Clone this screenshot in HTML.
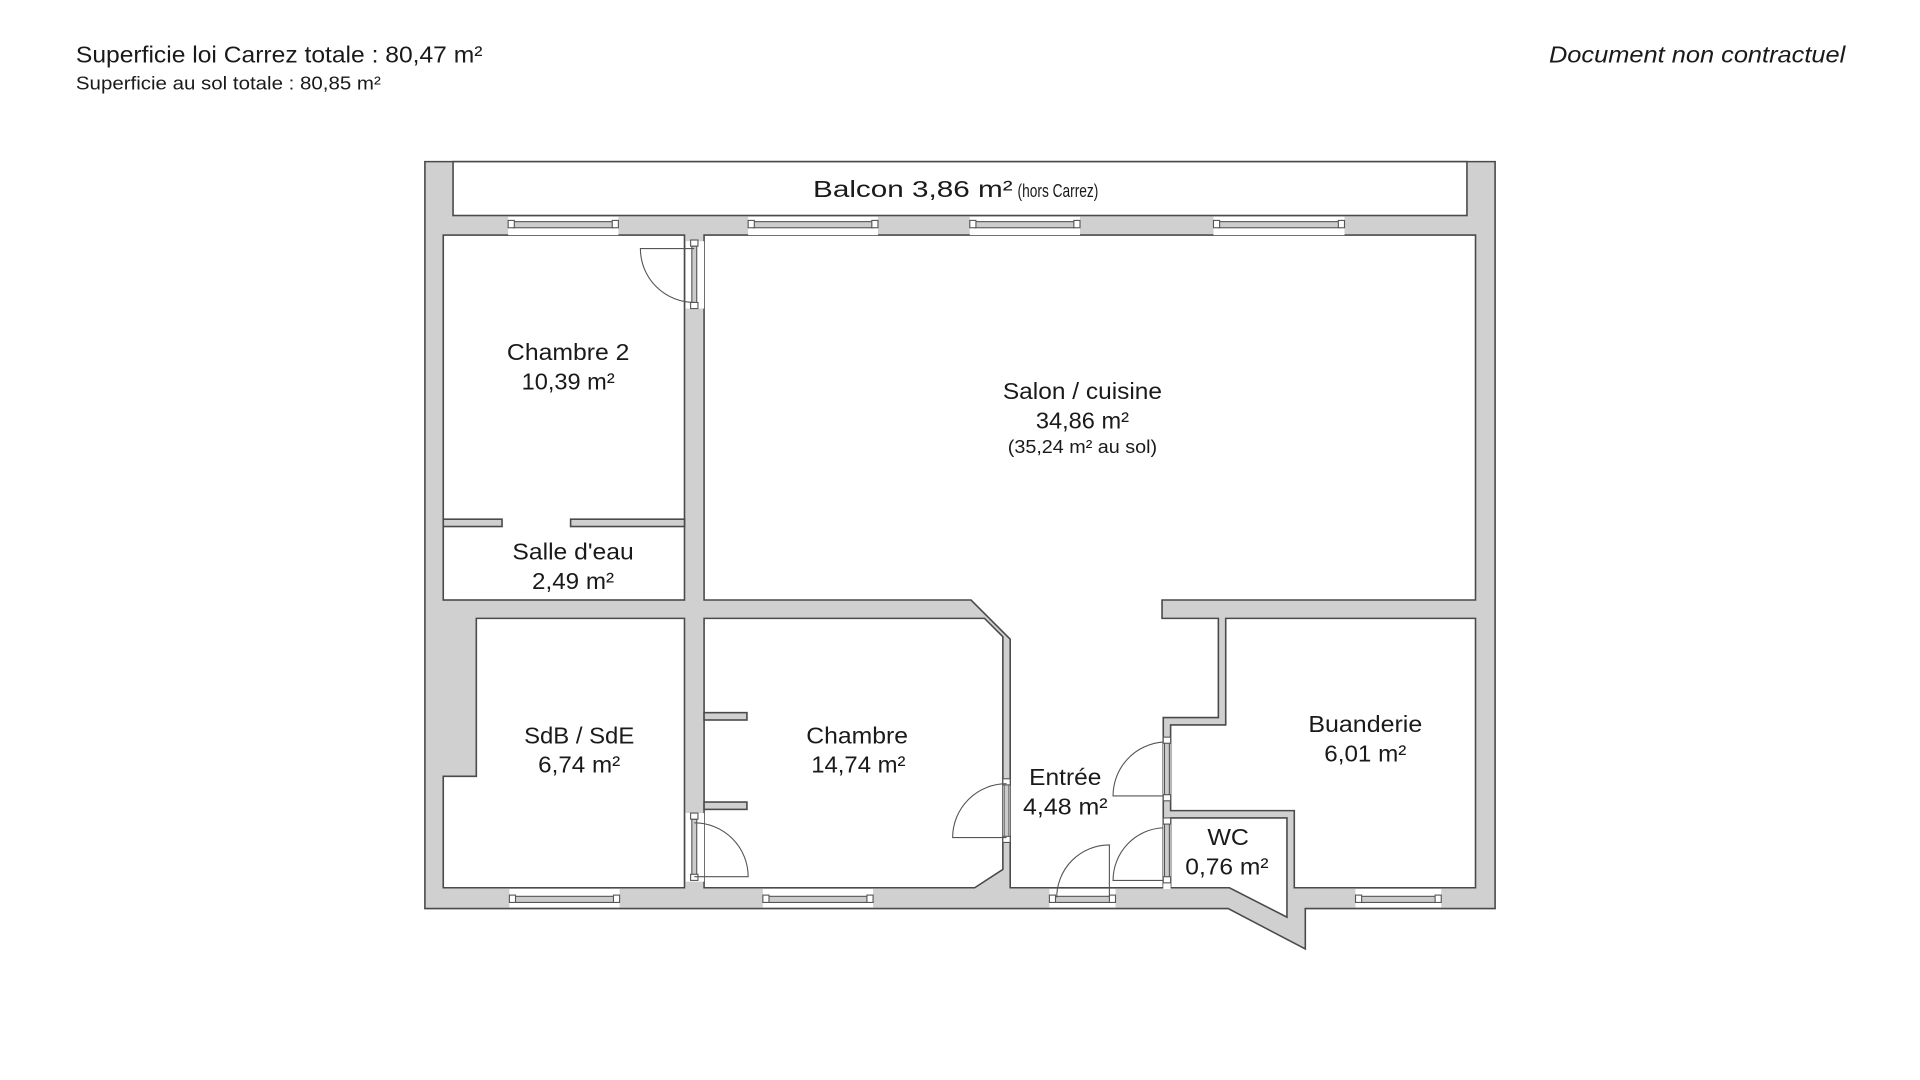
<!DOCTYPE html>
<html><head><meta charset="utf-8"><style>
html,body{margin:0;padding:0;background:#fff;}
svg{display:block}
text{font-family:"Liberation Sans",sans-serif;fill:#1a1a1a}
</style></head><body>
<svg width="1920" height="1080" viewBox="0 0 1568 882" xmlns="http://www.w3.org/2000/svg">
<rect width="1568" height="882" fill="#fff"/>
<g stroke="#4a4a4a" stroke-width="1.3" stroke-linejoin="miter">
<polygon points="347,132 1221,132 1221,742 1066,742 1066,775 1003,742 347,742" fill="#d0d0d0"/>
<rect x="370" y="132" width="828" height="44" fill="#fff"/>
<rect x="362" y="192" width="197" height="298" fill="#fff"/>
<rect x="362" y="424" width="48" height="6" fill="#d0d0d0"/>
<rect x="466" y="424" width="93" height="6" fill="#d0d0d0"/>
<polygon points="575,192 1205,192 1205,490 949,490 949,505 995,505 995,586 950,586 950,725 825,725 825,522 793,490 575,490" fill="#fff"/>
<polygon points="575,505 804,505 819,520 819,710 796,725 575,725" fill="#fff"/>
<rect x="575" y="582" width="35" height="6" fill="#d0d0d0"/>
<rect x="575" y="655" width="35" height="6" fill="#d0d0d0"/>
<polygon points="389,505 559,505 559,725 362,725 362,634 389,634" fill="#fff"/>
<polygon points="1001,505 1205,505 1205,725 1057,725 1057,662 956,662 956,592 1001,592" fill="#fff"/>
<polygon points="956,668 1051,668 1051,749 1004,725 956,725" fill="#fff"/>
</g>
<!-- windows -->
<g stroke="#555" stroke-width="0.9" fill="#fff">
<g id="w">
</g>
<rect x="415" y="177" width="90" height="15" stroke="none"/>
<rect x="611" y="177" width="106" height="15" stroke="none"/>
<rect x="792" y="177" width="90" height="15" stroke="none"/>
<rect x="991" y="177" width="107" height="15" stroke="none"/>
<rect x="416" y="726" width="90" height="15" stroke="none"/>
<rect x="623" y="726" width="90" height="15" stroke="none"/>
<rect x="857" y="726" width="54" height="15" stroke="none"/>
<rect x="1107" y="726" width="70" height="15" stroke="none"/>
<rect x="560" y="197" width="15" height="55" stroke="none"/>
<rect x="560" y="664" width="15" height="56" stroke="none"/>
<rect x="819" y="636" width="6" height="52" stroke="none"/>
<rect x="950" y="602" width="6" height="52" stroke="none"/>
<rect x="950" y="668" width="6" height="58" stroke="none"/>
</g>
<g stroke="#555" stroke-width="0.9" fill="#ccc">
<rect x="419" y="181" width="82" height="5"/><rect x="615" y="181" width="98" height="5"/>
<rect x="796" y="181" width="82" height="5"/><rect x="995" y="181" width="99" height="5"/>
<rect x="420" y="732" width="82" height="5"/><rect x="627" y="732" width="82" height="5"/>
<rect x="861" y="732" width="46" height="5"/><rect x="1111" y="732" width="62" height="5"/>
<rect x="565" y="201" width="4" height="47"/><rect x="565" y="669" width="4" height="46"/>
<rect x="820" y="640" width="4" height="44"/><rect x="951" y="606" width="4" height="44"/><rect x="951" y="672" width="4" height="47"/>
</g>
<g stroke="#555" stroke-width="0.9" fill="#fff">
<rect x="415" y="180" width="5" height="6"/><rect x="500" y="180" width="5" height="6"/>
<rect x="611" y="180" width="5" height="6"/><rect x="712" y="180" width="5" height="6"/>
<rect x="792" y="180" width="5" height="6"/><rect x="877" y="180" width="5" height="6"/>
<rect x="991" y="180" width="5" height="6"/><rect x="1093" y="180" width="5" height="6"/>
<rect x="416" y="731" width="5" height="6"/><rect x="501" y="731" width="5" height="6"/>
<rect x="623" y="731" width="5" height="6"/><rect x="708" y="731" width="5" height="6"/>
<rect x="857" y="731" width="5" height="6"/><rect x="906" y="731" width="5" height="6"/>
<rect x="1107" y="731" width="5" height="6"/><rect x="1172" y="731" width="5" height="6"/>
<rect x="564" y="196" width="6" height="5"/><rect x="564" y="247" width="6" height="5"/>
<rect x="564" y="664" width="6" height="5"/><rect x="564" y="714" width="6" height="5"/>
<rect x="819" y="636" width="6" height="5"/><rect x="819" y="683" width="6" height="5"/>
<rect x="950" y="602" width="6" height="5"/><rect x="950" y="649" width="6" height="5"/>
<rect x="950" y="668" width="6" height="5"/><rect x="950" y="716" width="6" height="5"/>
</g>
<!-- doors -->
<g stroke="#555" stroke-width="0.9" fill="none">
<path d="M567,203 L523,203 A44,44 0 0 0 567,247"/>
<path d="M567,716 L611,716 A44,44 0 0 0 567,672"/>
<path d="M822,640 A44,44 0 0 0 778,684 L822,684"/>
<path d="M950,606 A44,44 0 0 0 909,650 L950,650"/>
<path d="M950,676 A43,43 0 0 0 909,719 L950,719"/>
<path d="M906,733 L906,690 A43,43 0 0 0 863,733"/>
</g>
<!-- text -->
<text x="62" y="51" font-size="19" textLength="332" lengthAdjust="spacingAndGlyphs">Superficie loi Carrez totale : 80,47 m²</text>
<text x="62" y="73" font-size="15" textLength="249" lengthAdjust="spacingAndGlyphs">Superficie au sol totale : 80,85 m²</text>
<text x="1265" y="51" font-size="19" font-style="italic" textLength="242" lengthAdjust="spacingAndGlyphs">Document non contractuel</text>
<text x="664" y="161" font-size="19" textLength="163" lengthAdjust="spacingAndGlyphs">Balcon 3,86 m²</text>
<text x="831" y="161" font-size="15" textLength="66" lengthAdjust="spacingAndGlyphs">(hors Carrez)</text>
<g font-size="19" text-anchor="middle">
<text x="464" y="294" textLength="100" lengthAdjust="spacingAndGlyphs">Chambre 2</text>
<text x="464" y="318" textLength="76" lengthAdjust="spacingAndGlyphs">10,39 m²</text>
<text x="884" y="326" textLength="130" lengthAdjust="spacingAndGlyphs">Salon / cuisine</text>
<text x="884" y="350" textLength="76" lengthAdjust="spacingAndGlyphs">34,86 m²</text>
<text x="468" y="457" textLength="99" lengthAdjust="spacingAndGlyphs">Salle d'eau</text>
<text x="468" y="481" textLength="67" lengthAdjust="spacingAndGlyphs">2,49 m²</text>
<text x="473" y="607" textLength="90" lengthAdjust="spacingAndGlyphs">SdB / SdE</text>
<text x="473" y="631" textLength="67" lengthAdjust="spacingAndGlyphs">6,74 m²</text>
<text x="700" y="607" textLength="83" lengthAdjust="spacingAndGlyphs">Chambre</text>
<text x="701" y="631" textLength="77" lengthAdjust="spacingAndGlyphs">14,74 m²</text>
<text x="870" y="641" textLength="59" lengthAdjust="spacingAndGlyphs">Entrée</text>
<text x="870" y="665" textLength="69" lengthAdjust="spacingAndGlyphs">4,48 m²</text>
<text x="1003" y="690" textLength="34" lengthAdjust="spacingAndGlyphs">WC</text>
<text x="1002" y="714" textLength="68" lengthAdjust="spacingAndGlyphs">0,76 m²</text>
<text x="1115" y="598" textLength="93" lengthAdjust="spacingAndGlyphs">Buanderie</text>
<text x="1115" y="622" textLength="67" lengthAdjust="spacingAndGlyphs">6,01 m²</text>
</g>
<text x="884" y="370" font-size="15" text-anchor="middle" textLength="122" lengthAdjust="spacingAndGlyphs">(35,24 m² au sol)</text>
</svg>
</body></html>
